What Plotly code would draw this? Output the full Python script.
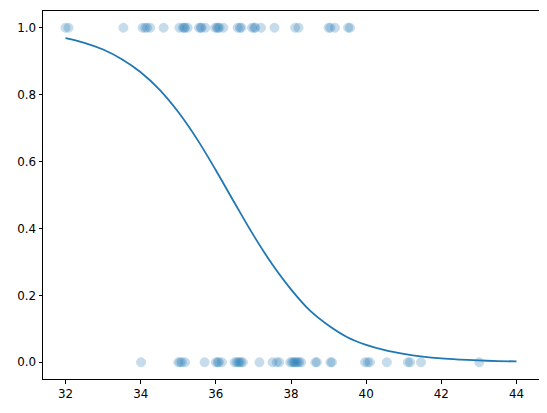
import plotly.graph_objects as go

# observed points: y = 1
x_ones = [32.0, 32.08, 33.54, 34.05, 34.12, 34.17, 34.25, 34.61, 35.03, 35.12, 35.16, 35.18, 35.25,
          35.55, 35.6, 35.62, 35.72, 35.98, 36.03, 36.06, 36.1, 36.2, 36.58, 36.64, 36.68,
          36.96, 37.02, 37.05, 37.2, 37.56, 38.11, 38.2, 39.0, 39.05, 39.17, 39.52, 39.57]
# observed points: y = 0
x_zeros = [34.01, 35.0, 35.05, 35.1, 35.18, 35.7, 36.0, 36.05, 36.08, 36.16,
           36.5, 36.55, 36.6, 36.63, 36.67, 36.72, 37.16, 37.51, 37.62, 37.69,
           37.98, 38.03, 38.07, 38.1, 38.14, 38.18, 38.22, 38.27,
           38.65, 38.69, 39.05, 39.09, 39.97, 40.04, 40.1, 40.55, 41.11, 41.17, 41.46, 43.01]

# fitted curve
curve_x = [32.0, 32.5, 33.0, 33.5, 34.0, 34.5, 35.0, 35.5, 36.0, 36.5, 37.0, 37.5, 38.0,
           38.5, 39.0, 39.5, 40.0, 40.5, 41.0, 41.5, 42.0, 42.5, 43.0, 43.5, 44.0]
curve_y = [0.969, 0.955, 0.935, 0.906, 0.867, 0.815, 0.748, 0.667, 0.574, 0.476, 0.380, 0.293, 0.218,
           0.155, 0.110, 0.075, 0.052, 0.036, 0.025, 0.017, 0.0115, 0.008, 0.0054, 0.0036, 0.0025]

x_ticks = [32, 34, 36, 38, 40, 42, 44]
y_ticks = [0.0, 0.2, 0.4, 0.6, 0.8, 1.0]

blue = "#1f77b4"
fig = go.Figure()
fig.add_trace(go.Scatter(x=x_ones + x_zeros, y=[1] * len(x_ones) + [0] * len(x_zeros),
                         mode="markers",
                         marker=dict(color=blue, size=9, opacity=0.25,
                                     line=dict(width=1, color=blue)),
                         showlegend=False))
fig.add_trace(go.Scatter(x=curve_x, y=curve_y, mode="lines",
                         line=dict(color=blue, width=1.8, shape="spline"),
                         showlegend=False))

axis_common = dict(showline=True, linecolor="black", linewidth=1, mirror=True,
                   ticks="outside", ticklen=3.5, tickwidth=1, tickcolor="black",
                   showgrid=False, zeroline=False, automargin=False,
                   tickfont=dict(family="DejaVu Sans", size=11.9, color="black"))
fig.update_xaxes(range=[31.4, 44.6], tickvals=x_ticks, **axis_common)
fig.update_yaxes(range=[-0.05, 1.05], tickvals=y_ticks, tickformat=".1f", **axis_common)

# page body has an 8px margin, so the figure is shifted by 8px
fig.update_layout(width=539, height=405,
                  margin=dict(l=35, r=8, t=3, b=34),
                  plot_bgcolor="white", paper_bgcolor="white",
                  font=dict(family="DejaVu Sans"))
fig.write_html("out.html")
